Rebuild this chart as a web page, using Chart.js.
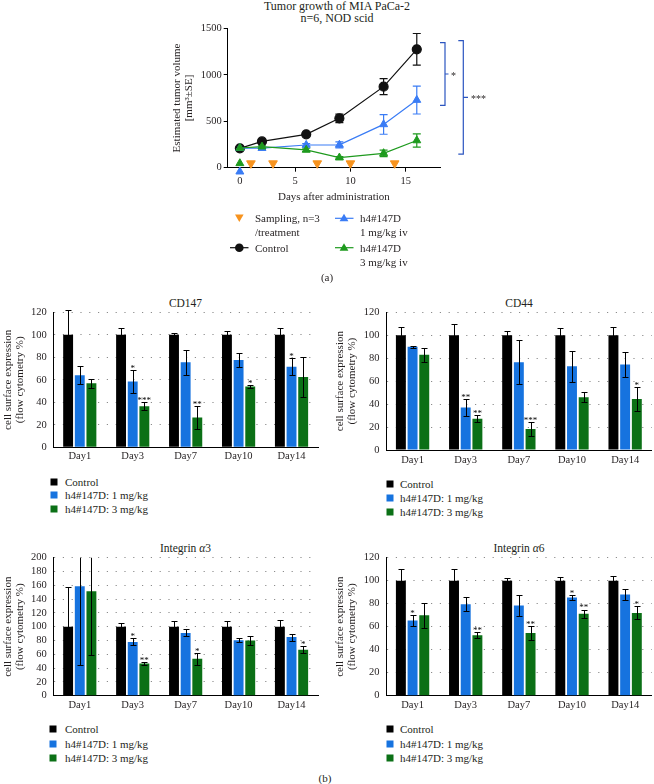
<!DOCTYPE html>
<html><head><meta charset="utf-8">
<script src="https://cdn.jsdelivr.net/npm/chart.js@4.4.1/dist/chart.umd.min.js"></script>
<style>
body{margin:0;width:654px;height:784px;position:relative;background:#fff;font-family:"Liberation Serif","Times New Roman",serif;color:#231f20;overflow:hidden}
canvas{position:absolute}
.t{position:absolute;white-space:nowrap;font-size:11px;line-height:13px}
.c{transform:translate(-50%,-50%)}
.l{transform:translateY(-50%)}
.sq{position:absolute;width:7px;height:7px;transform:translate(-50%,-50%)}
svg{position:absolute;left:0;top:0}
</style></head><body>

<!-- panel (a) -->
<div class="t c" style="left:337px;top:6px;font-size:12px">Tumor growth of MIA PaCa-2</div>
<div class="t c" style="left:337px;top:18px;font-size:12px">n=6, NOD scid</div>
<canvas id="growth" width="340" height="210" style="left:150px;top:0px"></canvas>

<svg width="654" height="280">
  <polygon points="235,214.5 243.6,214.5 239.3,222" fill="#f7931e"/>
  <line x1="230" y1="247.7" x2="248.5" y2="247.7" stroke="#111" stroke-width="1.2"/>
  <circle cx="239.3" cy="247.7" r="4.3" fill="#111"/>
  <line x1="335" y1="218.3" x2="353.5" y2="218.3" stroke="#3a7cf5" stroke-width="1.2"/>
  <polygon points="344,213.8 348.4,221.3 339.6,221.3" fill="#3a7cf5"/>
  <line x1="335" y1="247.7" x2="353.5" y2="247.7" stroke="#1e9a1e" stroke-width="1.2"/>
  <polygon points="344,243.2 348.4,250.7 339.6,250.7" fill="#1e9a1e"/>
</svg>
<div class="t l" style="left:255px;top:218.3px">Sampling, n=3</div>
<div class="t l" style="left:255px;top:232.3px">/treatment</div>
<div class="t l" style="left:255px;top:247.7px">Control</div>
<div class="t l" style="left:360px;top:218.3px">h4#147D</div>
<div class="t l" style="left:360px;top:232.3px">1 mg/kg iv</div>
<div class="t l" style="left:360px;top:247.7px">h4#147D</div>
<div class="t l" style="left:360px;top:261.5px">3 mg/kg iv</div>
<div class="t c" style="left:327px;top:277px">(a)</div>

<!-- panel (b) -->
<div class="t c" style="left:185.5px;top:302.7px;font-size:11.5px">CD147</div>
<div class="t c" style="left:519px;top:302.7px;font-size:11.5px">CD44</div>
<div class="t c" style="left:185.5px;top:547.7px;font-size:11.5px">Integrin <i>α</i>3</div>
<div class="t c" style="left:519px;top:547.7px;font-size:11.5px">Integrin <i>α</i>6</div>

<canvas id="cd147" width="325" height="180" style="left:0px;top:290px"></canvas>
<canvas id="cd44" width="324" height="180" style="left:330px;top:290px"></canvas>
<canvas id="ita3" width="325" height="185" style="left:0px;top:535px"></canvas>
<canvas id="ita6" width="324" height="185" style="left:330px;top:535px"></canvas>

<div id="legends"></div>
<div class="t c" style="left:325px;top:778px">(b)</div>

<script>
// ---------- data: tumour growth (a) ----------
const days = [0, 2, 6, 9, 13, 16];
const controlVol = [208, 283, 359, 531, 872, 1274];
const controlErr = [12, 18, 15, 45, 86, 170];
const lowVol = [210, 210, 244, 246, 466, 728];
const lowErr = [10, 12, 15, 32, 106, 150];
const highVol = [212, 226, 192, 108, 155, 293];
const highErr = [10, 10, 18, 12, 35, 72];
const samplingDays = [1, 3, 7, 10, 14];
const samplingLevel = [47, 47, 47, 47, 47];
const doseDays = [0];
const dose3Level = [47];
const dose1Level = [-43];
const growthXTicks = [0, 5, 10, 15];
const growthYTicks = [0, 500, 1000, 1500];
const sigTop = [1345, 1367];
const sigBottom = [671, 147];
const sigLabels = ['*', '***'];

// ---------- data: flow cytometry (b) ----------
const categories = ['Day1', 'Day3', 'Day7', 'Day10', 'Day14'];
const seriesNames = ['Control', 'h4#147D: 1 mg/kg', 'h4#147D: 3 mg/kg'];
const noStars = ['', '', '', '', ''];

const cd147Control = [100, 100, 100, 100, 100];
const cd147ControlErr = [22, 6, 2, 3, 6];
const cd147Low = [64, 58.5, 75.5, 77.5, 71.5];
const cd147LowErr = [8, 10, 11, 6, 7.5];
const cd147LowStars = ['', '*', '', '', '*'];
const cd147High = [57, 36.5, 26.5, 54, 62.5];
const cd147HighErr = [4, 3.5, 10.3, 1, 17.5];
const cd147HighStars = ['', '***', '**', '*', ''];

const cd44Control = [100, 100, 100, 100, 100];
const cd44ControlErr = [7, 10, 4, 6, 7];
const cd44Low = [90, 37, 76.5, 73, 74.5];
const cd44LowErr = [1, 7.5, 19, 13.5, 10.5];
const cd44LowStars = ['', '**', '', '', ''];
const cd44High = [83, 27.3, 18.3, 46, 44.5];
const cd44HighErr = [6, 3, 6, 4.4, 10.3];
const cd44HighStars = ['', '**', '***', '', '*'];

const a3Control = [100, 100, 100, 100, 100];
const a3ControlErr = [57, 6, 8, 8, 10];
const a3Low = [158.5, 78, 91, 80.5, 85];
const a3LowErr = [114, 5, 5, 2.5, 5];
const a3LowStars = ['', '*', '', '', ''];
const a3High = [151.5, 46.5, 53.5, 80, 66.5];
const a3HighErr = [92, 2, 8.5, 6, 5];
const a3HighStars = ['', '**', '*', '', '*'];

const a6Control = [100, 100, 100, 100, 100];
const a6ControlErr = [10, 10, 2, 3, 4];
const a6Low = [65.5, 79.5, 78.5, 85.5, 88];
const a6LowErr = [4.6, 6, 9, 2, 4.5];
const a6LowStars = ['*', '', '', '*', ''];
const a6High = [70, 52.5, 54.5, 71.3, 72];
const a6HighErr = [11, 2.5, 6, 3.5, 5.7];
const a6HighStars = ['', '**', '**', '**', '*'];

// ---------- styling ----------
const FONT = "'Liberation Serif','Times New Roman',serif";
const TXT = '#231f20';
const BAR_COLORS = ['#000000', '#1673df', '#0b7016'];
const C_CTRL = '#111111', C_LOW = '#3a7cf5', C_HIGH = '#1e9a1e', C_SAMP = '#f7931e', C_SIG = '#2b55c0';
Chart.defaults.font.family = FONT;
Chart.defaults.color = TXT;
Chart.defaults.animation = false;

// ---------- growth chart ----------
const pts = (xs, ys) => xs.map((x, i) => ({x, y: ys[i]}));

const lineErrorPlugin = {
  id: 'lineErrors',
  beforeDatasetsDraw(chart) {
    const {ctx} = chart, y = chart.scales.y;
    chart.data.datasets.forEach((ds, di) => {
      if (!ds.errors) return;
      const meta = chart.getDatasetMeta(di);
      ctx.save();
      ctx.strokeStyle = ds.borderColor; ctx.lineWidth = 1.2;
      meta.data.forEach((p, i) => {
        const v = ds.data[i].y, e = ds.errors[i];
        const yt = y.getPixelForValue(v + e), yb = y.getPixelForValue(v - e), x = p.x;
        ctx.beginPath();
        ctx.moveTo(x, yt); ctx.lineTo(x, yb);
        ctx.moveTo(x - 4, yt); ctx.lineTo(x + 4, yt);
        ctx.moveTo(x - 4, yb); ctx.lineTo(x + 4, yb);
        ctx.stroke();
      });
      ctx.restore();
    });
  }
};

const bracketPlugin = {
  id: 'brackets',
  afterDraw(chart) {
    const {ctx, chartArea} = chart, y = chart.scales.y;
    const R = chartArea.right;
    const geo = [{arm: 0, v: 5, tick: 8.5, tx: 11}, {arm: 18.3, v: 23.3, tick: 28, tx: 31}];
    ctx.save();
    ctx.strokeStyle = C_SIG; ctx.lineWidth = 1.2;
    sigTop.forEach((t, i) => {
      const g = geo[i];
      const y1 = y.getPixelForValue(t), y2 = y.getPixelForValue(sigBottom[i]), ym = (y1 + y2) / 2;
      ctx.beginPath();
      ctx.moveTo(R + g.arm, y1); ctx.lineTo(R + g.v, y1); ctx.lineTo(R + g.v, y2); ctx.lineTo(R + g.arm, y2);
      ctx.moveTo(R + g.v, ym); ctx.lineTo(R + g.tick, ym);
      ctx.stroke();
      ctx.fillStyle = TXT; ctx.font = '10px ' + FONT; ctx.textBaseline = 'middle'; ctx.textAlign = 'left';
      ctx.fillText(sigLabels[i], R + g.tx, ym + 2.5);
    });
    ctx.restore();
  }
};

new Chart(document.getElementById('growth'), {
  type: 'scatter',
  data: {
    datasets: [
      {label: 'h4#147D 3 mg/kg iv', data: pts(days, highVol), errors: highErr, showLine: true, order: 0,
       borderColor: C_HIGH, backgroundColor: C_HIGH, borderWidth: 1.2, pointStyle: 'triangle', pointRadius: 4.6, pointBorderWidth: 1},
      {label: 'h4#147D 1 mg/kg iv', data: pts(days, lowVol), errors: lowErr, showLine: true, order: 1,
       borderColor: C_LOW, backgroundColor: C_LOW, borderWidth: 1.2, pointStyle: 'triangle', pointRadius: 4.6, pointBorderWidth: 1},
      {label: 'Control', data: pts(days, controlVol), errors: controlErr, showLine: true, order: 2,
       borderColor: C_CTRL, backgroundColor: C_CTRL, borderWidth: 1.2, pointStyle: 'circle', pointRadius: 4.5},
      {label: 'Sampling, n=3 /treatment', data: pts(samplingDays, samplingLevel), showLine: false, order: 3,
       borderColor: C_SAMP, backgroundColor: C_SAMP, pointStyle: 'triangle', rotation: 180, pointRadius: 5, clip: false},
      {label: 'dose 3 mg/kg', data: pts(doseDays, dose3Level), showLine: false, order: 4,
       borderColor: C_HIGH, backgroundColor: C_HIGH, pointStyle: 'triangle', pointRadius: 4.6, clip: false},
      {label: 'dose 1 mg/kg', data: pts(doseDays, dose1Level), showLine: false, order: 5,
       borderColor: C_LOW, backgroundColor: C_LOW, pointStyle: 'triangle', pointRadius: 4.6, clip: false}
    ]
  },
  options: {
    responsive: false,
    layout: {padding: {top: 28.3, right: 50, left: 0, bottom: 0}},
    plugins: {legend: {display: false}, tooltip: {enabled: false}},
    scales: {
      x: {type: 'linear', min: -1.1, max: 18.1,
          afterBuildTicks(s) { s.ticks = growthXTicks.map(v => ({value: v})); },
          afterFit(s) { s.height = 42.3; },
          grid: {drawOnChartArea: false, drawTicks: true, tickLength: 4, tickColor: '#000', color: '#000'},
          border: {color: '#000', width: 1},
          ticks: {font: {size: 10.5}, padding: 3, color: TXT, callback: v => String(v)},
          title: {display: true, text: 'Days after administration', font: {size: 11, lineHeight: 1.1}, padding: {top: 0, bottom: 7.3}, color: TXT}},
      y: {min: 0, max: 1500,
          afterBuildTicks(s) { s.ticks = growthYTicks.map(v => ({value: v})); },
          afterFit(s) { s.width = 77.7; },
          grid: {drawOnChartArea: false, drawTicks: true, tickLength: 4, tickColor: '#000', color: '#000'},
          border: {color: '#000', width: 1},
          ticks: {font: {size: 10.5}, padding: 2, color: TXT, callback: v => String(v)},
          title: {display: true, text: ['Estimated tumor volume', '[mm³±SE]'], font: {size: 11, lineHeight: 1.12}, padding: {top: 20.5, bottom: 0}, color: TXT}}
    }
  },
  plugins: [lineErrorPlugin, bracketPlugin]
});

// ---------- bar charts ----------
const barErrorPlugin = {
  id: 'barErrors',
  afterDatasetsDraw(chart, args, opts) {
    const {ctx, chartArea} = chart, y = chart.scales.y;
    const extra = opts.clipExtra || 0;
    ctx.save();
    ctx.beginPath();
    ctx.rect(chartArea.left - 20, chartArea.top - extra, chartArea.right - chartArea.left + 40, chartArea.bottom - chartArea.top + extra + 20);
    ctx.clip();
    ctx.strokeStyle = '#000'; ctx.lineWidth = 1;
    chart.data.datasets.forEach((ds, di) => {
      chart.getDatasetMeta(di).data.forEach((bar, i) => {
        const v = ds.data[i], e = ds.errors[i];
        const yt = Math.round(y.getPixelForValue(v + e)) + 0.5, yb = Math.round(y.getPixelForValue(v - e)) + 0.5;
        const x = Math.round(bar.x) + 0.5;
        ctx.beginPath();
        ctx.moveTo(x, yt); ctx.lineTo(x, yb);
        ctx.moveTo(x - 3, yt); ctx.lineTo(x + 3, yt);
        ctx.moveTo(x - 3, yb); ctx.lineTo(x + 3, yb);
        ctx.stroke();
      });
    });
    ctx.restore();
    ctx.save();
    ctx.fillStyle = '#000'; ctx.font = '9px ' + FONT; ctx.textAlign = 'center'; ctx.textBaseline = 'alphabetic';
    chart.data.datasets.forEach((ds, di) => {
      chart.getDatasetMeta(di).data.forEach((bar, i) => {
        const s = ds.stars[i];
        if (!s) return;
        const yt = y.getPixelForValue(ds.data[i] + ds.errors[i]);
        ctx.fillText(s, bar.x, yt + 0.8);
      });
    });
    ctx.restore();
  }
};

function barChart(id, vals, errs, stars, yMax, geo) {
  new Chart(document.getElementById(id), {
    type: 'bar',
    data: {
      labels: categories,
      datasets: seriesNames.map((name, k) => ({
        label: name, data: vals[k], errors: errs[k], stars: stars[k],
        backgroundColor: BAR_COLORS[k], borderWidth: 0,
        categoryPercentage: 0.66, barPercentage: 0.85
      }))
    },
    options: {
      responsive: false,
      layout: {padding: {top: geo.padTop, right: geo.padRight, left: 0, bottom: 0}},
      plugins: {legend: {display: false}, tooltip: {enabled: false}, barErrors: {clipExtra: geo.clipExtra}},
      scales: {
        x: {grid: {display: false, drawTicks: false}, border: {color: '#000', width: 1},
            ticks: {font: {size: 10.5}, padding: geo.xPad, color: TXT},
            afterFit(s) { s.height = geo.xH; }},
        y: {min: 0, max: yMax,
            ticks: {stepSize: 20, autoSkip: false, font: {size: 10.5}, padding: 6.5, color: TXT},
            grid: {drawTicks: false, lineWidth: 1, color: c => (c.tick && c.tick.value === 0) ? 'rgba(0,0,0,0)' : '#8c8c8c'},
            border: {color: '#000', width: 1, dash: [1.2, 7.6]},
            title: {display: true, text: ['cell surface expression', '(flow cytometry %)'], font: {size: 11, lineHeight: 1.12},
                    padding: {top: geo.titlePad, bottom: 0}, color: TXT},
            afterFit(s) { s.width = geo.yW; }}
      }
    },
    plugins: [barErrorPlugin]
  });
}

barChart('cd147',
  [cd147Control, cd147Low, cd147High], [cd147ControlErr, cd147LowErr, cd147HighErr], [noStars, cd147LowStars, cd147HighStars],
  120, {padTop: 22.3, padRight: 7, xH: 22.7, yW: 53.3, xPad: 2.5, titlePad: 1.5, clipExtra: 8});
barChart('cd44',
  [cd44Control, cd44Low, cd44High], [cd44ControlErr, cd44LowErr, cd44HighErr], [noStars, cd44LowStars, cd44HighStars],
  120, {padTop: 22.3, padRight: 2.3, xH: 20, yW: 56, xPad: 3.5, titlePad: 3.5, clipExtra: 8});
barChart('ita3',
  [a3Control, a3Low, a3High], [a3ControlErr, a3LowErr, a3HighErr], [noStars, a3LowStars, a3HighStars],
  200, {padTop: 22.7, padRight: 7, xH: 24.3, yW: 53.3, xPad: 3, titlePad: 1.5, clipExtra: 0});
barChart('ita6',
  [a6Control, a6Low, a6High], [a6ControlErr, a6LowErr, a6HighErr], [noStars, a6LowStars, a6HighStars],
  120, {padTop: 22.7, padRight: 2.3, xH: 24.3, yW: 56, xPad: 3, titlePad: 3.5, clipExtra: 8});

// ---------- legends for (b) ----------
const legendSpots = [
  {sx: 54.3, tx: 65, rows: [481.7, 495.3, 509.3]},
  {sx: 390, tx: 400, rows: [484.3, 498.3, 512.3]},
  {sx: 53.3, tx: 65, rows: [729.3, 744, 758.3]},
  {sx: 390, tx: 400, rows: [729.3, 744, 758.3]}
];
const lg = document.getElementById('legends');
legendSpots.forEach(spot => {
  seriesNames.forEach((name, k) => {
    const sq = document.createElement('div');
    sq.className = 'sq';
    sq.style.left = spot.sx + 'px'; sq.style.top = spot.rows[k] + 'px'; sq.style.background = BAR_COLORS[k];
    lg.appendChild(sq);
    const t = document.createElement('div');
    t.className = 't l';
    t.style.left = spot.tx + 'px'; t.style.top = spot.rows[k] + 'px';
    t.textContent = name;
    lg.appendChild(t);
  });
});
</script>
</body></html>
